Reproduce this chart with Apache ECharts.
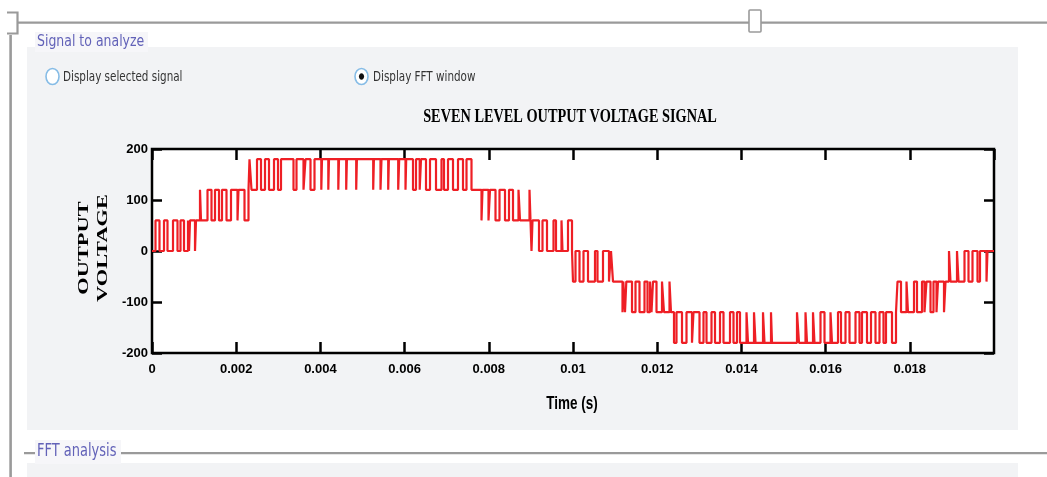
<!DOCTYPE html>
<html>
<head>
<meta charset="utf-8">
<script src="https://cdn.jsdelivr.net/npm/echarts@6/dist/echarts.min.js"></script>
<style>
html,body{margin:0;padding:0;background:#fff;}
#chart{width:1047px;height:477px;}
</style>
</head>
<body>
<div id="chart"></div>
<script>
// ---- data: switching instants (ms) and the output level (V) after each switch ----
const startLevel = [[0, 0]];
const rise0to60 = [
  [0.0831,60],[0.1781,0],[0.2850,60],[0.3682,0],[0.4988,60],[0.6057,0],[0.6770,60],
  [0.7601,0],[0.8551,60],[0.8789,0],[0.9026,60],[1.0214,0],[1.0451,60]
];
const rise60to120 = [
  [1.1401,120],[1.1639,60],[1.3183,120],[1.4133,60],[1.4964,120],[1.5915,60],[1.6627,120],
  [1.7696,60],[1.8765,120],[2.0309,60],[2.0546,120],[2.1972,60],[2.2922,120]
];
const peak120to180 = [
  [2.3159,180],[2.3634,120],[2.4941,180],[2.5891,120],[2.6841,180],[2.7791,120],[2.8979,180],
  [2.9929,120],[3.0641,180],[3.3610,120],[3.4323,180],[3.5986,120],[3.6461,180],[3.7649,120],
  [3.8599,180],[4.0214,120],[4.0380,180],[4.1877,120],[4.2043,180],[4.4252,120],[4.4418,180],
  [4.6128,120],[4.6295,180],[4.8504,120],[4.8670,180],[5.2542,120],[5.2708,180],[5.4276,120],
  [5.4513,180],[5.6105,120],[5.6271,180],[5.8480,120],[5.8717,180],[6.0214,120],[6.0380,180],
  [6.1995,120],[6.2708,180],[6.3587,120],[6.3896,180],[6.5083,120],[6.6033,180],[6.7459,120],
  [6.8765,180],[6.9359,120],[7.0309,180],[7.1497,120],[7.2684,180],[7.3872,120],[7.4703,180],
  [7.5891,120]
];
const fall120to60 = [
  [7.8266,60],[7.8504,120],[7.9929,60],[8.0285,120],[8.1592,60],[8.2542,120],[8.3848,60],
  [8.4798,120],[8.5748,60],[8.7055,120],[8.7411,60],[8.9668,120],[8.9905,60]
];
const fall60to0 = [
  [9.0143,0],[9.0380,60],[9.1924,0],[9.2755,60],[9.3824,0],[9.5368,60],[9.5962,0],
  [9.7268,60],[9.7506,0],[9.8812,60],[9.9763,0]
];
const fall0toM60 = [
  [10.0000,-60],[10.0594,0],[10.1544,-60],[10.2494,0],[10.3563,-60],[10.5226,0],[10.5820,-60],
  [10.7126,0],[10.8551,-60],[10.9026,0],[10.9501,-60]
];
const fallM60toM120 = [
  [11.1758,-120],[11.1948,-60],[11.2352,-120],[11.2661,-60],[11.4014,-120],[11.4846,-60],
  [11.5796,-120],[11.6983,-60],[11.7696,-120],[11.8290,-60],[11.8646,-120],[11.9002,-60],
  [11.9834,-120],[12.1140,-60],[12.1615,-120],[12.2922,-60],[12.3278,-120]
];
const troughM120toM180 = [
  [12.3991,-180],[12.4584,-120],[12.5891,-180],[12.6960,-120],[12.8266,-180],[12.8622,-120],
  [13.0048,-180],[13.0998,-120],[13.1710,-180],[13.2898,-120],[13.3729,-180],[13.4917,-120],
  [13.5748,-180],[13.7292,-120],[13.8124,-180],[13.8955,-120],[13.9668,-180],[14.1212,-120],
  [14.1568,-180],[14.2993,-120],[14.3349,-180],[14.5131,-120],[14.5487,-180],[14.7031,-120],
  [14.7269,-180],[15.3207,-120],[15.3682,-180],[15.5226,-120],[15.5582,-180],[15.7007,-120],
  [15.7363,-180],[15.8789,-120],[15.9739,-180],[16.1164,-120],[16.1520,-180],[16.2945,-120],
  [16.3658,-180],[16.4727,-120],[16.5677,-180],[16.7102,-120],[16.8052,-180],[16.8646,-120],
  [16.9834,-180],[17.0784,-120],[17.1853,-180],[17.2803,-120],[17.3753,-180],[17.4347,-120],
  [17.5772,-180],[17.6722,-120]
];
const riseM120toM60 = [
  [17.7078,-60],[17.7910,-120],[17.9216,-60],[17.9572,-120],[18.0998,-60],[18.1710,-120],
  [18.2898,-60],[18.3492,-120],[18.3967,-60],[18.4917,-120],[18.5629,-60],[18.6342,-120],
  [18.6699,-60],[18.8124,-120],[18.8480,-60]
];
const riseM60to0 = [
  [18.9311,0],[18.9667,-60],[19.1211,0],[19.1568,-60],[19.2993,0],[19.3943,-60],[19.4893,0],
  [19.6081,-60],[19.6675,0],[19.8219,-60],[19.8456,0],[20.0,0]
];
const yTicks = [-200, -100, 0, 100, 200];
const xTickStep = 0.002;

const edges = [].concat(startLevel, rise0to60, rise60to120, peak120to180, fall120to60,
  fall60to0, fall0toM60, fallM60toM120, troughM120toM180, riseM120toM60, riseM60to0);
const waveData = edges.map(e => [e[0] / 1000, e[1]]);

const chart = echarts.init(document.getElementById('chart'), null, {renderer: 'canvas'});
const GRAY = '#9a9a9a';
const PANEL = '#f2f3f5';
const LABEL_BLUE = '#6262b8';
const axisTickStyle = {color: '#000', width: 2.5};
const labelFont = {fontFamily: 'Liberation Sans', fontWeight: 'bold', fontSize: 13, color: '#000'};
const hiddenLine = {show: false, onZero: false};

chart.setOption({
  animation: false,
  backgroundColor: '#ffffff',
  graphic: {elements: [
    {type: 'rect', z: -10, shape: {x: 27, y: 47, width: 991, height: 383}, style: {fill: PANEL}},
    {type: 'rect', z: -10, shape: {x: 27, y: 463, width: 991, height: 14}, style: {fill: PANEL}},
    {type: 'rect', z: -9, shape: {x: 17, y: 21.5, width: 1030, height: 2.2}, style: {fill: GRAY}},
    {type: 'polyline', z: -9, shape: {points: [[7, 12.5], [17.5, 12.5], [17.5, 33.5], [7, 33.5]]}, style: {stroke: GRAY, lineWidth: 2.2, fill: null}},
    {type: 'rect', z: -9, shape: {x: 9.3, y: 35, width: 2.6, height: 442}, style: {fill: GRAY}},
    {type: 'rect', z: -8, shape: {x: 749, y: 10, width: 12, height: 22, r: 1}, style: {fill: '#fff', stroke: GRAY, lineWidth: 1.6}},
    {type: 'rect', z: -9, shape: {x: 35, y: 32, width: 113, height: 20}, style: {fill: '#f6f6f9'}},
    {type: 'text', z: -7, x: 37, y: 42, scaleY: 1.3, style: {text: 'Signal to analyze', font: '12.5px "DejaVu Sans"', fill: LABEL_BLUE, align: 'left', verticalAlign: 'middle'}},
    {type: 'ellipse', z: -7, shape: {cx: 52.5, cy: 76.5, rx: 6.5, ry: 8}, style: {fill: '#fff', stroke: '#86bce6', lineWidth: 1.6}},
    {type: 'text', z: -7, x: 63, y: 77, scaleY: 1.35, style: {text: 'Display selected signal', font: '10.4px "DejaVu Sans"', fill: '#333', align: 'left', verticalAlign: 'middle'}},
    {type: 'ellipse', z: -7, shape: {cx: 361.5, cy: 76.5, rx: 6.5, ry: 8}, style: {fill: '#fff', stroke: '#86bce6', lineWidth: 1.6}},
    {type: 'ellipse', z: -6, shape: {cx: 361.5, cy: 76.5, rx: 2.6, ry: 3.2}, style: {fill: '#111'}},
    {type: 'text', z: -7, x: 373, y: 77, scaleY: 1.35, style: {text: 'Display FFT window', font: '10.4px "DejaVu Sans"', fill: '#333', align: 'left', verticalAlign: 'middle'}},
    {type: 'rect', z: -9, shape: {x: 24, y: 452, width: 1023, height: 2.2}, style: {fill: GRAY}},
    {type: 'rect', z: -8, shape: {x: 35, y: 440, width: 86, height: 24}, style: {fill: '#f6f6f9'}},
    {type: 'text', z: -7, x: 37, y: 452, scaleY: 1.3, style: {text: 'FFT analysis', font: '13px "DejaVu Sans"', fill: LABEL_BLUE, align: 'left', verticalAlign: 'middle'}},
    {type: 'text', z: 5, x: 570, y: 117.5, scaleY: 1.3, style: {text: 'SEVEN LEVEL OUTPUT VOLTAGE SIGNAL', font: 'bold 14.3px "Liberation Serif"', fill: '#000', align: 'center', verticalAlign: 'middle'}},
    {type: 'text', z: 5, x: 93.5, y: 248, rotation: Math.PI / 2, scaleX: 1.6, style: {text: 'OUTPUT\nVOLTAGE', font: 'bold 14px "Liberation Serif"', lineHeight: 19, fill: '#000', align: 'center', verticalAlign: 'middle'}},
    {type: 'text', z: 5, x: 572, y: 404, scaleY: 1.3, style: {text: 'Time (s)', font: 'bold 13.5px "Liberation Sans"', fill: '#000', align: 'center', verticalAlign: 'middle'}}
  ]},
  grid: {left: 152, top: 149, width: 842, height: 204, show: true, backgroundColor: '#ffffff', borderColor: '#000', borderWidth: 2.5},
  xAxis: [
    {type: 'value', min: 0, max: 0.02, interval: xTickStep, position: 'bottom',
     axisLine: hiddenLine, splitLine: {show: false},
     axisTick: {inside: true, length: 11, lineStyle: axisTickStyle},
     axisLabel: Object.assign({margin: 10, showMaxLabel: false,
       formatter: v => String(Math.round(v * 1000) / 1000)}, labelFont)},
    {type: 'value', min: 0, max: 0.02, interval: xTickStep, position: 'top',
     axisLine: hiddenLine, splitLine: {show: false},
     axisTick: {inside: true, length: 11, lineStyle: axisTickStyle},
     axisLabel: {show: false}}
  ],
  yAxis: [
    {type: 'value', min: yTicks[0], max: yTicks[yTicks.length - 1], interval: 100, position: 'left',
     axisLine: hiddenLine, splitLine: {show: false},
     axisTick: {inside: true, length: 10, lineStyle: axisTickStyle},
     axisLabel: Object.assign({margin: 4, padding: [0, 0, 8, 0]}, labelFont)},
    {type: 'value', min: yTicks[0], max: yTicks[yTicks.length - 1], interval: 100, position: 'right',
     axisLine: hiddenLine, splitLine: {show: false},
     axisTick: {inside: true, length: 10, lineStyle: axisTickStyle},
     axisLabel: {show: false}}
  ],
  series: [{
    type: 'line', step: 'end', xAxisIndex: 0, yAxisIndex: 0,
    data: waveData, showSymbol: false, symbol: 'none', clip: true,
    lineStyle: {color: '#ee1f25', width: 2.2}, z: 3
  }]
});
</script>
</body>
</html>
